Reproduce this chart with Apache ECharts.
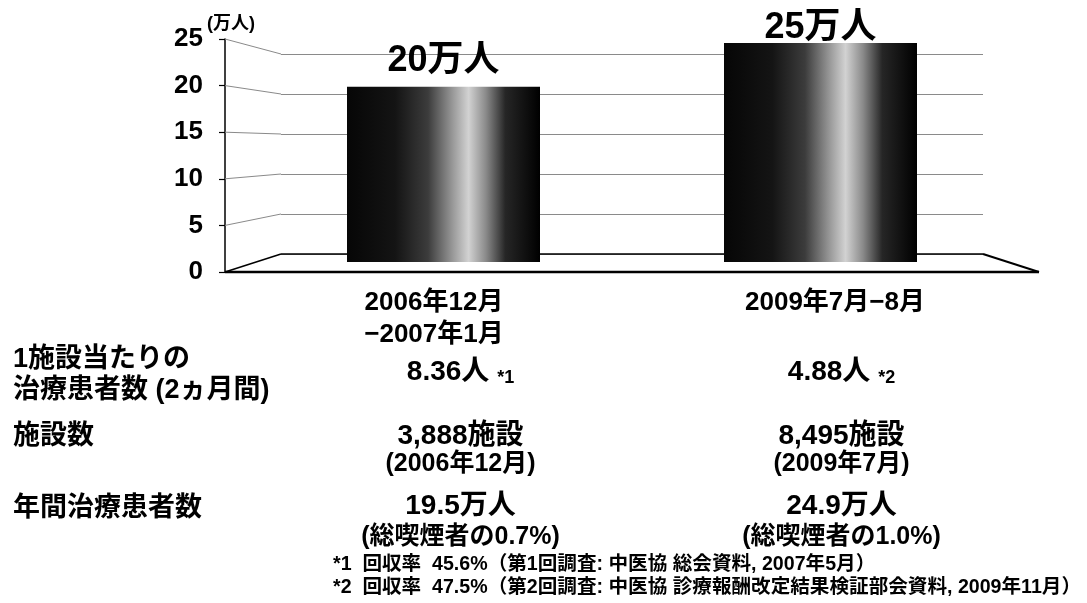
<!DOCTYPE html>
<html>
<head>
<meta charset="utf-8">
<script src="https://cdn.jsdelivr.net/npm/echarts@6/dist/echarts.min.js"></script>
<style>
  html, body { margin: 0; padding: 0; background: #fff; }
  #c { width: 1087px; height: 603px; }
</style>
</head>
<body>
<div id="c"></div>
<script>
// ---- data ----
const categories = ['2006年12月\n−2007年1月', '2009年7月−8月'];
const patients = [20, 25];               // 年間治療患者数（万人）
const yTicks = [0, 5, 10, 15, 20, 25];
const unitLabel = '(万人)';
const valueSuffix = '万人';
const rowLabels = ['1施設当たりの\n治療患者数 (2ヵ月間)', '施設数', '年間治療患者数'];
const perFacility = ['8.36人', '4.88人'];
const noteMarks = ['*1', '*2'];
const facilities = ['3,888施設', '8,495施設'];
const facilityDates = ['(2006年12月)', '(2009年7月)'];
const annualPatients = ['19.5万人', '24.9万人'];
const smokerShare = ['(総喫煙者の0.7%)', '(総喫煙者の1.0%)'];
const footnotes = [
  '*1  回収率  45.6%（第1回調査: 中医協 総会資料, 2007年5月）',
  '*2  回収率  47.5%（第2回調査: 中医協 診療報酬改定結果検証部会資料, 2009年11月）'
];

// ---- layout / style ----
const FONT = '"Liberation Sans", "Noto Sans CJK JP", sans-serif';
const labelDistance = [8, -3];        // value label gap above each bar
const categoryPadding = [[0, 19, 0, 0], [0, 0, 0, 29]];
const columnShift = [17, 21];         // table column offset from bar centre
const wallColor = '#8a8a8a';

const chart = echarts.init(document.getElementById('c'));

const barGradient = {
  type: 'linear', x: 0, y: 0, x2: 1, y2: 0,
  colorStops: [
    { offset: 0.00, color: '#060606' },
    { offset: 0.25, color: '#141414' },
    { offset: 0.42, color: '#3c3c3c' },
    { offset: 0.55, color: '#9a9a9a' },
    { offset: 0.63, color: '#d2d2d2' },
    { offset: 0.72, color: '#8a8a8a' },
    { offset: 0.82, color: '#262626' },
    { offset: 1.00, color: '#000000' }
  ]
};

chart.setOption({
  animation: false,
  backgroundColor: '#fff',
  grid: [
    { left: 225, top: 39, width: 1, height: 233 },     // front-left value axis
    { left: 281, top: 54, width: 702, height: 200 },   // back wall
    { left: 255, top: 43, width: 754, height: 219 }    // bars
  ],
  xAxis: [
    { gridIndex: 0, type: 'value', min: 0, max: 1, show: false },
    { gridIndex: 1, type: 'value', min: 0, max: 1, show: false },
    {
      gridIndex: 2, type: 'category',
      data: categories.map((c, i) => ({ value: c, textStyle: { padding: categoryPadding[i] } })),
      axisLine: { show: false }, axisTick: { show: false },
      axisLabel: {
        interval: 0, margin: 25, fontSize: 26, lineHeight: 32,
        fontWeight: 'bold', color: '#000', fontFamily: FONT
      }
    }
  ],
  yAxis: [
    {
      gridIndex: 0, type: 'value', min: yTicks[0], max: yTicks[yTicks.length - 1],
      interval: yTicks[1] - yTicks[0],
      axisLine: { show: true, lineStyle: { color: '#000', width: 1.5 } },
      axisTick: { show: true, length: 6, lineStyle: { color: '#000', width: 1.2 } },
      axisLabel: { fontSize: 26, fontWeight: 'bold', color: '#000', margin: 22, fontFamily: FONT },
      splitLine: { show: false }
    },
    {
      gridIndex: 1, type: 'value', min: yTicks[0], max: yTicks[yTicks.length - 1],
      interval: yTicks[1] - yTicks[0],
      axisLine: { show: false }, axisTick: { show: false }, axisLabel: { show: false },
      splitLine: { show: true, lineStyle: { color: wallColor, width: 1 } }
    },
    { gridIndex: 2, type: 'value', min: yTicks[0], max: yTicks[yTicks.length - 1], show: false }
  ],
  series: [{
    type: 'bar',
    xAxisIndex: 2, yAxisIndex: 2,
    barWidth: 193,
    z: 5,
    itemStyle: { color: barGradient },
    label: {
      show: true, position: 'top',
      formatter: p => p.value + valueSuffix,
      fontSize: 36, lineHeight: 36, fontWeight: 'bold', color: '#000', fontFamily: FONT
    },
    data: patients.map((v, i) => ({ value: v, label: { distance: labelDistance[i] } }))
  }]
});

// ---- 3D frame, wall lines and the table, placed from the axes ----
const yL = v => chart.convertToPixel({ yAxisIndex: 0 }, v);
const yB = v => chart.convertToPixel({ yAxisIndex: 1 }, v);
const xL = chart.convertToPixel({ xAxisIndex: 0 }, 0);
const xB0 = chart.convertToPixel({ xAxisIndex: 1 }, 0);
const xB1 = chart.convertToPixel({ xAxisIndex: 1 }, 1);
const xFR = xB1 + (xB0 - xL);
const yFront = yL(0), yBack = yB(0);
const colX = categories.map((c, i) => chart.convertToPixel({ xAxisIndex: 2 }, c) + columnShift[i]);

const line = (x1, y1, x2, y2, color, width) => ({
  type: 'line', z: 1, silent: true,
  shape: { x1, y1, x2, y2 },
  style: { stroke: color, lineWidth: width }
});
const text = (x, y, str, size, align, extra) => ({
  type: 'text', z: 6, silent: true, x, y,
  style: Object.assign({
    text: str, fill: '#000',
    font: 'bold ' + size + 'px ' + FONT,
    fontSize: size, fontWeight: 'bold', fontFamily: FONT,
    align, textAlign: align, verticalAlign: 'middle', textVerticalAlign: 'middle'
  }, extra || {})
});

const elements = [];
// side wall grid lines
yTicks.filter(v => v > 0).forEach(v => elements.push(line(xL, yL(v), xB0, yB(v), wallColor, 1)));
// floor outline
elements.push(line(xL, yFront, xB0, yBack, '#000', 1.5));
elements.push(line(xB0, yBack, xB1, yBack, '#000', 1.5));
elements.push(line(xB1, yBack, xFR, yFront, '#000', 2));
elements.push(line(xL, yFront, xFR, yFront, '#000', 2.5));

// unit label
elements.push(text(xL - 18, yL(25) - 15, unitLabel, 18, 'left'));

// row labels
const rowX = 13;
elements.push(text(rowX, 375, rowLabels[0], 27, 'left', { lineHeight: 31 }));
elements.push(text(rowX, 437, rowLabels[1], 27, 'left'));
elements.push(text(rowX, 509, rowLabels[2], 27, 'left'));

// table values
colX.forEach((x, i) => {
  elements.push(text(x, 372, '{v|' + perFacility[i] + '} {n|' + noteMarks[i] + '}', 28, 'center', {
    rich: {
      v: { fontSize: 28, fontWeight: 'bold', fontFamily: FONT, fill: '#000', lineHeight: 30 },
      n: { fontSize: 18, fontWeight: 'bold', fontFamily: FONT, fill: '#000', lineHeight: 24, verticalAlign: 'bottom' }
    }
  }));
  elements.push(text(x, 436, facilities[i], 28, 'center'));
  elements.push(text(x, 464, facilityDates[i], 25, 'center'));
  elements.push(text(x, 506, annualPatients[i], 28, 'center'));
  elements.push(text(x, 537, smokerShare[i], 25, 'center'));
});

// footnotes
footnotes.forEach((f, i) => elements.push(text(333, 565 + i * 23, f, 19.6, 'left')));

chart.setOption({ graphic: { elements } });
</script>
</body>
</html>
